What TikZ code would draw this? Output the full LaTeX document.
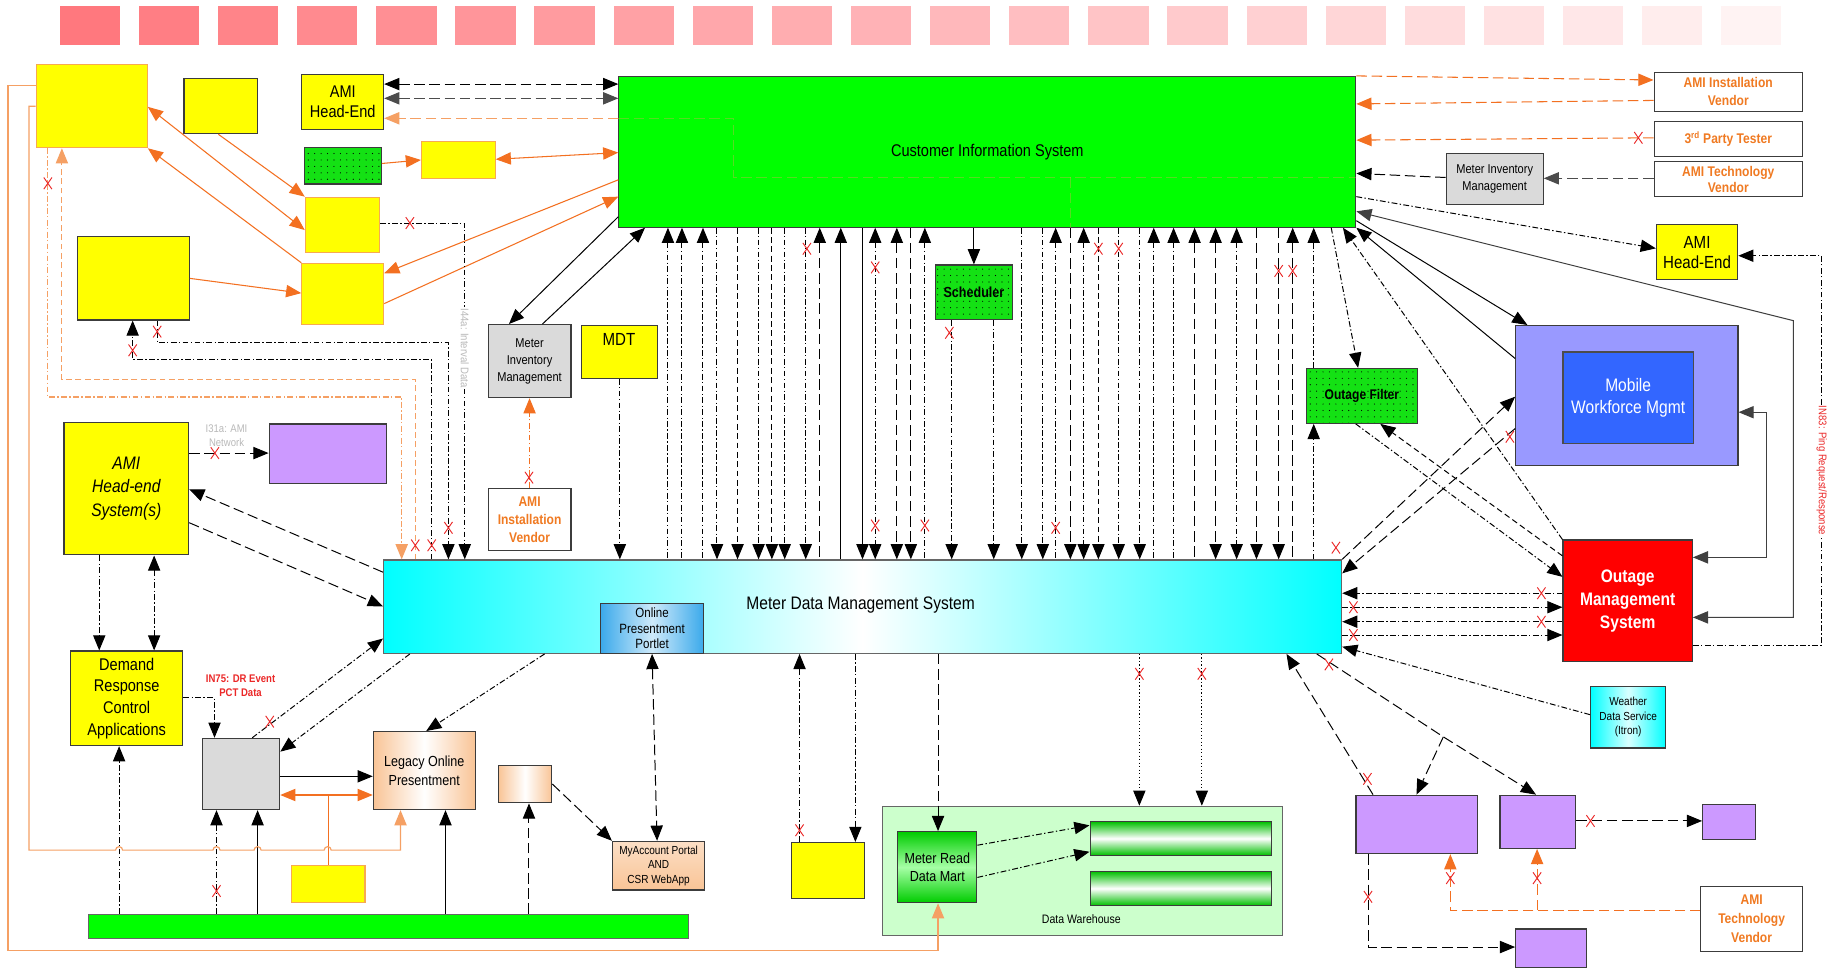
\documentclass[tikz,border=0pt]{standalone}
\usepackage{fontspec}
\setmainfont{Liberation Sans}[FakeStretch=0.86]
\usetikzlibrary{arrows.meta,patterns.meta}
\definecolor{ylw}{RGB}{255,255,0}
\definecolor{obord}{RGB}{247,170,80}
\definecolor{oarr}{RGB}{243,112,33}
\definecolor{otxt}{RGB}{240,122,34}
\definecolor{oline}{RGB}{245,160,100}
\definecolor{cisg}{RGB}{0,255,0}
\definecolor{dotg}{RGB}{20,225,20}
\definecolor{gry}{RGB}{218,218,218}
\definecolor{purp}{RGB}{204,153,255}
\definecolor{mwo}{RGB}{153,153,255}
\definecolor{mwi}{RGB}{51,102,255}
\definecolor{omsr}{RGB}{255,0,0}
\definecolor{dwg}{RGB}{204,255,204}
\definecolor{pinkA}{RGB}{255,120,126}
\definecolor{pinkB}{RGB}{255,243,243}
\definecolor{faint}{RGB}{185,185,185}
\definecolor{xred}{RGB}{235,40,40}
\definecolor{peach}{RGB}{249,196,150}
\definecolor{oppb}{RGB}{60,170,235}
\definecolor{bdr}{RGB}{60,60,60}
\newcommand\vln[2]{\draw[#2] (#1,0 |- cis.south) -- (#1,0 |- mdms.north);}
\begin{document}
\begin{tikzpicture}[x=1pt,y=-1pt,line width=0.85pt,
  >={Triangle[length=13pt,width=10.5pt]},
  box/.style={draw=bdr,line width=1pt,inner sep=1pt,anchor=north west,align=center},
  dotgreen/.style={draw=bdr,preaction={fill=dotg},pattern={Dots[distance=5.5pt,radius=0.5pt]},pattern color=black},
  gbarst/.style={top color=green!75!black,bottom color=green!75!black,middle color=white},
  dd/.style={dash pattern=on 5pt off 2pt on 1.2pt off 2pt},
  ld/.style={dash pattern=on 9pt off 4pt},
  dsh/.style={dash pattern=on 5pt off 3pt},
  dt/.style={dash pattern=on 1pt off 2pt},
  org/.style={draw=oarr,line width=0.9pt},
  orgl/.style={draw=oline,line width=1pt},
  xm/.pic={\draw[xred,line width=0.8pt] (-3.5,-5)--(3.5,5) (-3.5,5)--(3.5,-5);}
]
\useasboundingbox (0,0) rectangle (1568,830);
\fill[white] (0,0) rectangle (1568,830);
% pink header
\foreach \i in {0,...,21} {\pgfmathsetmacro\p{100-\i*100/21}
  \fill[pinkA!\p!pinkB] (51.2+\i*67.75,5.1) rectangle ++(51.6,33.2);}

% ---------- boxes ----------
\node[box,draw=obord,fill=ylw,minimum width=95pt,minimum height=71pt] (tl) at (30.6,55) {};
\node[box,fill=ylw,minimum width=63pt,minimum height=47pt] (sy) at (157,67) {};
\node[box,fill=ylw,minimum width=70pt,minimum height=47pt,font=\fontsize{14.5}{17}\selectfont] (ahe1) at (258,63.5) {AMI\\Head-End};
\node[box,dotgreen,minimum width=66pt,minimum height=31pt] (gd) at (260,126) {};
\node[box,draw=obord,fill=ylw,minimum width=63pt,minimum height=31.5pt] (y2) at (360.5,121) {};
\node[box,draw=obord,fill=ylw,minimum width=63.6pt,minimum height=47pt] (y3) at (261,168.4) {};
\node[box,fill=ylw,minimum width=95.7pt,minimum height=71.5pt] (y4) at (66,202) {};
\node[box,draw=obord,fill=ylw,minimum width=70pt,minimum height=52.5pt] (y5) at (258,225) {};
\node[box,fill=cisg,minimum width=631pt,minimum height=129pt,font=\fontsize{14.5}{16}\selectfont] (cis) at (529.5,65) {Customer Information System};
\node[box,fill=gry,minimum width=71pt,minimum height=62.5pt,font=\fontsize{11}{14.5}\selectfont] (mim1) at (417.5,277.5) {Meter\\Inventory\\Management};
\node[box,fill=ylw,minimum width=65pt,minimum height=45pt] (mdt) at (497.8,278.3) {};
\node[font=\fontsize{15}{17}\selectfont] (mdtl) at (530,291) {MDT};
\node[box,fill=white,minimum width=71pt,minimum height=53pt,text=otxt,font=\bfseries\fontsize{12}{15.5}\selectfont] (aiv1) at (417.5,418) {AMI\\Installation\\Vendor};
\node[box,dotgreen,minimum width=65.7pt,minimum height=47pt,font=\bfseries\fontsize{12.5}{14}\selectfont] (sched) at (800.7,226.4) {Scheduler};
\node[box,dotgreen,minimum width=95.5pt,minimum height=47pt,font=\bfseries\fontsize{12}{13}\selectfont] (of) at (1118,315) {Outage Filter};
\node[box,fill=mwo,minimum width=190.3pt,minimum height=120pt] (mwm) at (1297.5,278.3) {};
\node[box,fill=mwi,draw=black!70,minimum width=111.6pt,minimum height=78pt,text=white,font=\fontsize{15.5}{19}\selectfont] (mwmi) at (1338,301) {Mobile\\Workforce Mgmt};
\node[box,fill=omsr,minimum width=110.7pt,minimum height=104pt,text=white,font=\bfseries\fontsize{15.5}{19.5}\selectfont] (oms) at (1338,462) {Outage\\Management\\System};
\node[box,fill=ylw,minimum width=69.6pt,minimum height=47pt,font=\fontsize{15}{17}\selectfont] (ahe2) at (1418,192) {AMI\\Head-End};
\node[box,fill=white,minimum width=127pt,minimum height=33.4pt,text=otxt,font=\bfseries\fontsize{12}{15.5}\selectfont] (aiv2) at (1416,61.4) {AMI Installation\\Vendor};
\node[box,fill=white,minimum width=127pt,minimum height=30pt,text=otxt,font=\bfseries\fontsize{12}{14}\selectfont] (tpt) at (1416,103.6) {3\textsuperscript{rd} Party Tester};
\node[box,fill=white,minimum width=127pt,minimum height=30pt,text=otxt,font=\bfseries\fontsize{12}{14}\selectfont] (atv) at (1416,138) {AMI Technology\\Vendor};
\node[box,fill=gry,minimum width=83pt,minimum height=44pt,font=\fontsize{11}{14.5}\selectfont] (mim2) at (1238,130.7) {Meter Inventory\\Management};
\node[box,fill=ylw,minimum width=106.7pt,minimum height=113.7pt,font=\itshape\fontsize{15.5}{20}\selectfont] (hes) at (54.3,361) {AMI\\Head-end\\System(s)};
\node[box,fill=purp,minimum width=100.8pt,minimum height=51pt] (pp1) at (230,362.6) {};
\node[box,fill=ylw,minimum width=96pt,minimum height=81pt,font=\fontsize{14.5}{18.5}\selectfont] (drca) at (60,557) {Demand\\Response\\Control\\Applications};
\node[box,draw=black!60,left color=cyan,right color=cyan,middle color=white,minimum width=820.4pt,minimum height=80pt] (mdms) at (328,479) {};
\node[font=\fontsize{15.5}{17}\selectfont] (mdmsl) at (737,518) {Meter Data Management System};
\node[box,left color=oppb,right color=oppb,middle color=oppb!25,minimum width=87.8pt,minimum height=43pt,font=\fontsize{11.5}{13.5}\selectfont] (opp) at (514,516) {Online\\Presentment\\Portlet};
\node[box,fill=gry,minimum width=66.2pt,minimum height=61pt] (gb) at (172.8,631.8) {};
\node[box,left color=peach,right color=peach,middle color=white,minimum width=87.2pt,minimum height=66.8pt,font=\fontsize{12.5}{16}\selectfont] (lop) at (319.2,626) {Legacy Online\\Presentment};
\node[box,left color=peach,right color=peach,middle color=white,minimum width=45.7pt,minimum height=32pt] (pch) at (426.3,655) {};
\node[box,top color=peach!55,bottom color=peach,minimum width=79pt,minimum height=41.7pt,font=\fontsize{10}{12.5}\selectfont] (myacc) at (524,720) {MyAccount Portal\\AND\\CSR WebApp};
\node[box,draw=obord,fill=ylw,minimum width=62.7pt,minimum height=31.2pt] (ysm) at (249.3,740.8) {};
\node[box,fill=cisg,draw=black!60,minimum width=513.5pt,minimum height=20.3pt] (gbar) at (75.3,782.7) {};
\node[box,fill=ylw,minimum width=62.3pt,minimum height=47.8pt] (ybm) at (677.4,721) {};
\node[box,fill=dwg,draw=black!60,minimum width=342.5pt,minimum height=110.5pt] (dw) at (755.5,690) {};
\node[font=\fontsize{10.5}{12}\selectfont] (dwl) at (926,787) {Data Warehouse};
\node[box,top color=green!80!black,bottom color=green!80!black,middle color=green!35,minimum width=67.6pt,minimum height=60.8pt,font=\fontsize{12.5}{15}\selectfont] (mrdm) at (768.4,711.7) {Meter Read\\Data Mart};
\node[box,gbarst,minimum width=155.5pt,minimum height=29pt] (bar1) at (933,703) {};
\node[box,gbarst,minimum width=155.5pt,minimum height=29.4pt] (bar2) at (933,745.6) {};
\node[box,left color=cyan,right color=cyan,middle color=cyan!15,minimum width=64.4pt,minimum height=52.5pt,font=\fontsize{10}{12.5}\selectfont] (wds) at (1361.6,587.5) {Weather\\Data Service\\(Itron)};
\node[box,fill=purp,minimum width=104.3pt,minimum height=50pt] (pu1) at (1160.7,680.5) {};
\node[box,fill=purp,minimum width=65pt,minimum height=45.5pt] (pu2) at (1284,680.5) {};
\node[box,fill=purp,minimum width=45.4pt,minimum height=30pt] (pu3) at (1457.6,688.5) {};
\node[box,fill=purp,minimum width=60.5pt,minimum height=33pt] (pu4) at (1297.5,795) {};
\node[box,fill=white,minimum width=87pt,minimum height=56pt,text=otxt,font=\bfseries\fontsize{12}{16.5}\selectfont] (atv2) at (1456,758.4) {AMI\\Technology\\Vendor};

\coordinate (br1) at (1236,631);
\coordinate (br2) at (1316.3,779.4);

% ---------- top-left connectors ----------
\draw[org,<->] (tl.east |- 0,91.5) -- (y3.west |- 0,197);
\draw[org,->] (y5.north west) -- (tl.south east);
\draw[org,->] (187,0 |- sy.south) -- (y3.north west);
\draw[org,->] (gd.east |- 0,140) -- (y2.west |- 0,137);
\draw[org,<->] (y2.east |- 0,136.4) -- (cis.west |- 0,130.7);
\draw[org,->] (cis.west |- 0,154) -- (y5.east |- 0,234);
\draw[org,->] (y5.east |- 0,260) -- (cis.west |- 0,168.4);
\draw[org,->] (y4.east |- 0,238.4) -- (y5.west |- 0,251);
\draw[ld,<->] (ahe1.east |- 0,72) -- (cis.west |- 0,72);
\draw[ld,<->,draw=black!70] (ahe1.east |- 0,84.2) -- (cis.west |- 0,84.2);
\draw[orgl,ld,->] (cis.west |- 0,101.3) -- (ahe1.east |- 0,101.3);
\draw[orgl,ld,opacity=0.35] (cis.west |- 0,101.3) -- (628,101.3) -- (628,152) -- (cis.east |- 0,152);
\draw[orgl,ld,opacity=0.35] (917,152) -- (917,0 |- cis.south);

% ---------- CIS <-> MDMS verticals ----------
\vln{572}{dd,<-}
\vln{584}{dd,<-}
\vln{602}{dd,<-}
\vln{614}{dd,->}
\vln{631.6}{dsh,->}
\vln{649.6}{dd,->}
\vln{661}{dsh,->}
\vln{672}{dd,->}
\vln{690}{dd,->}
\vln{702}{ld,<-}
\vln{720}{<-}
\vln{738.6}{->}
\vln{749.5}{dd,<->}
\vln{768}{ld,<->}
\vln{780}{ld,->}
\vln{792}{dd,<-}
\vln{875}{dd,->}
\vln{893}{dd,->}
\vln{904}{dd,<-}
\vln{916.6}{ld,->}
\vln{928}{dd,<->}
\vln{940.6}{dsh,->}
\vln{958}{dd,->}
\vln{976}{dd,->}
\vln{988}{dd,<-}
\vln{1005}{dd,<-}
\vln{1023}{ld,<-}
\vln{1041}{ld,<->}
\vln{1059}{dd,<->}
\vln{1076}{ld,->}
\vln{1095}{ld,->}
\vln{1107}{ld,<-}
\draw[->] (834,0 |- cis.south) -- (834,0 |- sched.north);
\draw[dd,->] (815,0 |- sched.south) -- (815,0 |- mdms.north);
\draw[dd,->] (851,0 |- sched.south) -- (851,0 |- mdms.north);
\draw[dd,->] (mdt.south) -- (mdt.south |- mdms.north);
\draw[->] (cis.west |- 0,185.6) -- (435.8,0 |- mim1.north);
\draw[->] (464.5,0 |- mim1.north) -- (552.4,0 |- cis.south);
\draw[org,dd,->] (aiv1.north) -- (mim1.south);

% ---------- left middle ----------
\draw[dd,->] (y3.east |- 0,191) -- (398,191) -- (398,0 |- mdms.north);
\node[rotate=-90,fill=white,text=faint,inner sep=1pt,font=\fontsize{9.5}{10}\selectfont] (i44) at (398,298) {I44a: Interval Data};
\draw[dd,->] (134.6,0 |- y4.south) -- (134.6,293.5) -- (384,293.5) -- (384,0 |- mdms.north);
\draw[dd,->] (369.7,0 |- mdms.north) -- (369.7,308) -- (113.6,308) -- (113.6,0 |- y4.south);
\draw[orgl,dd,->] (41,0 |- tl.south) -- (41,340) -- (344,340) -- (344,0 |- mdms.north);
\draw[orgl,dsh,->] (355.6,0 |- mdms.north) -- (355.6,325) -- (53,325) -- (53,0 |- tl.south);
\node[text=faint,align=center,font=\fontsize{9.5}{12}\selectfont] (i31) at (194,373) {I31a: AMI\\Network};
\draw[ld,->] (hes.east |- 0,388) -- (pp1.west |- 0,388);
\draw[ld,->] (mdms.west |- 0,490) -- (hes.east |- 0,419);
\draw[ld,->] (hes.east |- 0,447.6) -- (mdms.west |- 0,519.3);
\draw[dd,->] (85,0 |- hes.south) -- (85,0 |- drca.north);
\draw[dd,<->] (132,0 |- hes.south) -- (132,0 |- drca.north);
\draw[dd,->] (drca.east |- 0,597.5) -- (183.7,597.5) -- (183.7,0 |- gb.north);
\node[text=xred,align=center,font=\bfseries\fontsize{9.5}{12}\selectfont] (in75) at (206,587) {IN75: DR Event\\PCT Data};
\draw[dd,->] (216,0 |- gb.north) -- (mdms.west |- 0,546.8);
\draw[dd,->] (351,0 |- mdms.south) -- (gb.east |- 0,643.7);
\draw[->] (gb.east |- 0,664.8) -- (lop.west |- 0,664.8);
\draw[org,<->] (gb.east |- 0,680.8) -- (lop.west |- 0,680.8);
\draw[org] (ysm.north) -- (ysm.north |- 0,680.8);
\draw[dd,->] (466.4,0 |- mdms.south) -- (365,0 |- lop.north);
\draw[dd,->] (102,0 |- gbar.north) -- (102,0 |- drca.south);
\draw[dd,->] (185.4,0 |- gbar.north) -- (185.4,0 |- gb.south);
\draw[->] (220.6,0 |- gbar.north) -- (220.6,0 |- gb.south);
\draw[->] (381.5,0 |- gbar.north) -- (381.5,0 |- lop.south);
\draw[ld,->] (453,0 |- gbar.north) -- (453,0 |- pch.south);
\draw[ld,->] (pch.east |- 0,671.4) -- (myacc.north west);
\draw[ld,<->] (558.4,0 |- opp.south) -- (562.7,0 |- myacc.north);
\draw[orgl,->] (tl.west |- 0,91) -- (24.9,91) -- (24.9,728) -- (99,728)
  arc[start angle=180,end angle=360,radius=3] -- (182.4,728)
  arc[start angle=180,end angle=360,radius=3] -- (217.6,728)
  arc[start angle=180,end angle=360,radius=3] -- (277.6,728)
  arc[start angle=180,end angle=360,radius=3] -- (343,728) -- (343,0 |- lop.south);
\draw[orgl,->] (tl.west |- 0,73) -- (6.9,73) -- (6.9,814) -- (803.3,814) -- (803.3,0 |- mrdm.south);

% ---------- bottom middle ----------
\draw[dt,->] (975.7,0 |- mdms.south) -- (975.7,0 |- dw.north);
\draw[dt,->] (1029.2,0 |- mdms.south) -- (1029.2,0 |- dw.north);
\draw[ld,->] (803.3,0 |- mdms.south) -- (803.3,0 |- mrdm.north);
\draw[dd,->] (mrdm.east |- 0,723.8) -- (bar1.west |- 0,706.8);
\draw[dd,->] (mrdm.east |- 0,751.4) -- (bar1.west |- 0,729.4);
\draw[dd,->] (684.7,0 |- ybm.north) -- (684.7,0 |- mdms.south);
\draw[dd,->] (732.5,0 |- mdms.south) -- (732.5,0 |- ybm.north);

% ---------- right side ----------
\draw[org,ld,->] (cis.north east) -- (aiv2.west |- 0,68.5);
\draw[org,ld,->] (aiv2.west |- 0,86) -- (cis.east |- 0,89);
\draw[org,ld,->] (tpt.west |- 0,118) -- (cis.east |- 0,120);
\draw[ld,->,draw=black!70] (atv.west |- 0,152.7) -- (mim2.east |- 0,152.7);
\draw[ld,->] (mim2.west |- 0,152) -- (cis.east |- 0,148.5);
\draw[dd,->] (cis.east |- 0,168.4) -- (ahe2.west |- 0,212.7);
\draw[<->,draw=black!75] (oms.east |- 0,528.7) -- (1535.8,528.7) -- (1535.8,274.6) -- (cis.east |- 0,181);
\draw[->] (cis.east |- 0,189) -- (1308,0 |- mwm.north);
\draw[->] (mwm.west |- 0,307) -- (cis.south east);
\draw[dd,->] (oms.north west) -- (1150,0 |- cis.south);
\draw[<->,draw=black!75] (mwm.east |- 0,353) -- (1513,353) -- (1513,477.3) -- (oms.east |- 0,477.3);
\draw[dd,->] (oms.east |- 0,552.4) -- (1560,552.4) -- (1560,219) -- (ahe2.east |- 0,219);
\node[rotate=-90,fill=white,text=xred,inner sep=1pt,font=\fontsize{9.5}{10}\selectfont] (in83) at (1560,403) {IN83: Ping Request/Response};
\draw[dd,->] (1140,0 |- cis.south) -- (1163,0 |- of.north);
\draw[dd,->] (1125,0 |- of.north) -- (1125,0 |- cis.south);
\draw[dd,->] (1125,0 |- mdms.north) -- (1125,0 |- of.south);
\draw[dsh,->] (oms.west |- 0,476) -- (1182,0 |- of.south);
\draw[dd,->] (1161,0 |- of.south) -- (oms.west |- 0,494);
\draw[ld,->] (mdms.north east) -- (mwm.west |- 0,339.7);
\draw[ld,->] (mwm.west |- 0,367) -- (mdms.east |- 0,491);
\draw[dd,->] (oms.west |- 0,508) -- (mdms.east |- 0,508);
\draw[dd,->] (mdms.east |- 0,520) -- (oms.west |- 0,520);
\draw[dd,->] (oms.west |- 0,532.4) -- (mdms.east |- 0,532.4);
\draw[dd,->] (mdms.east |- 0,543.8) -- (oms.west |- 0,543.8);
\draw[dd,->] (wds.west |- 0,612) -- (mdms.east |- 0,553.8);
\draw[ld,->] (1127.6,0 |- mdms.south) -- (br1) -- (1315.4,0 |- pu2.north);
\draw[ld,->] (br1) -- (1213,0 |- pu1.north);
\draw[ld,->] (1175.8,0 |- pu1.north) -- (1101.7,0 |- mdms.south);
\draw[ld,->] (pu2.east |- 0,703) -- (pu3.west |- 0,703);
\draw[ld,->] (1171.5,0 |- pu1.south) -- (1171.5,811) -- (pu4.west |- 0,811);
\draw[org,ld,->] (atv2.west |- 0,779.4) -- (1242,779.4) -- (1242,0 |- pu1.south);
\draw[org,ld,->] (br2) -- (1316.3,0 |- pu2.south);

% ---------- X marks ----------
\foreach \a/\b in {351/191,134.6/284,384/452,113.6/300,369.7/467,41/157,355.6/467,
  184/388,231/618,185.4/763,453/409,813/285,691/213,749.5/229,749.5/450,792/450,
  904/452,940.6/213,958/213,1095/232,1107/232,1403/118,1144/469,1293/374,
  1320/508,1159/520,1320/532.4,1159/543.8,1138/569,1171/667,1362/703,1171.5/768,
  1242/752,1316.3/752,975.7/577,1029.2/577,684.7/711}
  {\pic at (\a,\b) {xm};}
\end{tikzpicture}
\end{document}
